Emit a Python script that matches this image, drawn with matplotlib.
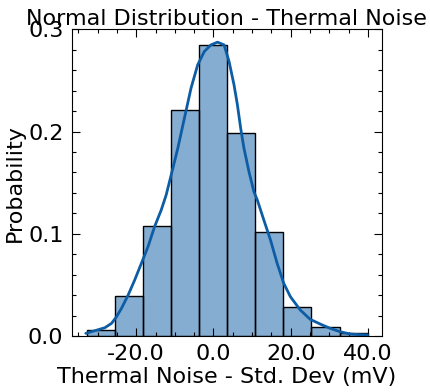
import numpy as np
import matplotlib
matplotlib.use("Agg")
import matplotlib.pyplot as plt
from matplotlib.ticker import MultipleLocator, AutoMinorLocator, FormatStrFormatter

# Histogram (stat = probability), 10 equal bins spanning the data range
data_min, data_max = -32.8, 39.9
probabilities = [0.006, 0.039, 0.108, 0.221, 0.285, 0.199, 0.102, 0.028, 0.009, 0.003]

# KDE curve
kde_x = [-33.05, -30.67, -28.1, -26.38, -25.09, -23.81, -22.08, -20.39, -18.66, -16.94,
         -15.24, -13.52, -12.24, -10.95, -9.23, -7.53, -5.81, -4.09, -2.39, -0.67,
         1.05, 2.75, 4.04, 5.32, 6.2, 7.04, 7.89, 9.18, 10.46, 11.34, 13.03, 14.76,
         16.48, 18.17, 19.9, 22.47, 25.04, 27.61, 30.18, 32.75, 35.32, 37.7, 39.9]
kde_y = [0.0026, 0.0052, 0.0081, 0.0124, 0.0189, 0.0271, 0.0401, 0.0548, 0.0711, 0.0874,
         0.107, 0.1233, 0.138, 0.1575, 0.1837, 0.213, 0.2424, 0.2652, 0.2782, 0.2847,
         0.2874, 0.2847, 0.2684, 0.2456, 0.226, 0.2032, 0.1837, 0.1608, 0.1412, 0.1331, 0.1135, 0.0939,
         0.0711, 0.0517, 0.0385, 0.0254, 0.0163, 0.0117, 0.0075, 0.0042, 0.002, 0.0013, 0.001]

title = "Normal Distribution - Thermal Noise"
xlabel = "Thermal Noise - Std. Dev (mV)"
ylabel = "Probability"

line_color = "#0C5DA5"
fs = 16

plt.rcParams["font.family"] = "DejaVu Sans"
fig = plt.figure(figsize=(4.31, 3.92), dpi=100)
ax = fig.add_axes([0.1664, 0.1429, 0.7192, 0.7824])

edges = np.linspace(data_min, data_max, len(probabilities) + 1)
ax.bar(edges[:-1], probabilities, width=np.diff(edges), align="edge",
       color=line_color, alpha=0.5, edgecolor="none")
ax.bar(edges[:-1], probabilities, width=np.diff(edges), align="edge",
       facecolor="none", edgecolor="black", linewidth=1.0)
ax.plot(kde_x, kde_y, color=line_color, linewidth=2.0, solid_capstyle="round")

ax.set_ylim(0, 0.3)
ax.xaxis.set_major_locator(MultipleLocator(20))
ax.yaxis.set_major_locator(MultipleLocator(0.1))
ax.xaxis.set_minor_locator(AutoMinorLocator(4))
ax.yaxis.set_minor_locator(AutoMinorLocator(5))
ax.xaxis.set_major_formatter(FormatStrFormatter("%.1f"))
ax.yaxis.set_major_formatter(FormatStrFormatter("%.1f"))
ax.tick_params(which="both", direction="in", top=True, right=True, labelsize=fs, width=0.8)
ax.tick_params(which="major", length=5.5, pad=6)
ax.tick_params(which="minor", length=3)
for s in ax.spines.values():
    s.set_linewidth(0.8)

ax.set_title(title, fontsize=fs, pad=3)
ax.set_xlabel(xlabel, fontsize=fs, labelpad=2)
ax.set_ylabel(ylabel, fontsize=fs, labelpad=2)

fig.savefig("out.png", dpi=100)
